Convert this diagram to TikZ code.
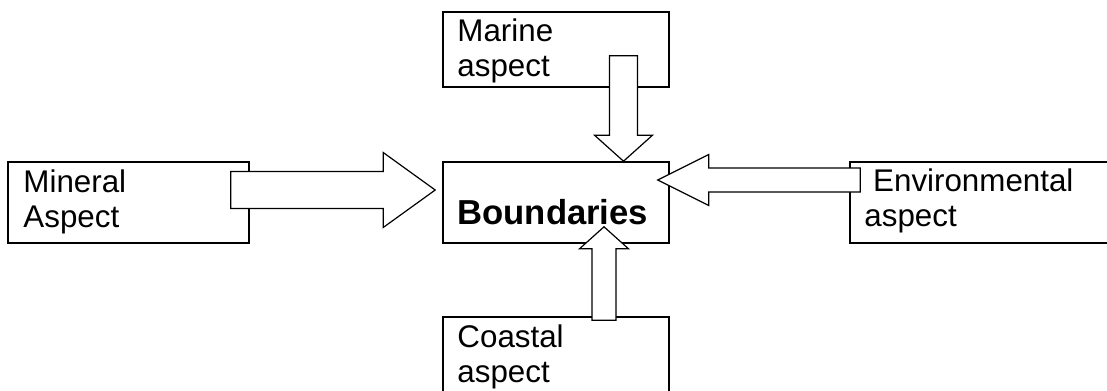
\documentclass[tikz,border=0pt]{standalone}
\usepackage{fontspec}
\setmainfont{Liberation Sans}
\usetikzlibrary{calc}
\def\pxu{0.75pt}
\tikzset{
  box/.style={draw, line width=1.2pt, rectangle, inner sep=0pt},
  blockarr/.style={draw, fill=white, line width=0.9pt, line join=miter},
  lbl/.style={inner sep=0pt, align=left, font=\fontsize{23.5}{26.25}\selectfont},
}
\begin{document}
\begin{tikzpicture}[x=0.75pt,y=-0.75pt]
\clip (0,0) rectangle (1107,390);
% boxes
\node[box, minimum width=226*\pxu, minimum height=75*\pxu] (marine) at (556,49.5) {};
\node[box, minimum width=226*\pxu, minimum height=81*\pxu] (bound) at (556,202.5) {};
\node[box, minimum width=241*\pxu, minimum height=81*\pxu] (mineral) at (128.5,202.5) {};
\node[box, minimum width=262*\pxu, minimum height=81*\pxu] (env) at (981,202.5) {};
\node[box, minimum width=226*\pxu, minimum height=80*\pxu] (coastal) at (556,357) {};
% arrow end points
\coordinate (mt) at ($(marine.south)+(67.5,-32)$);
\coordinate (mh) at (bound.north -| mt);
\coordinate (ct) at ($(coastal.north)+(48,4)$);
\coordinate (ch) at ($(bound.south)+(48,-17)$);
\coordinate (nt) at ($(mineral.east)+(-19,-12.5)$);
\coordinate (nh) at ($(bound.west)+(-7,-12.5)$);
\coordinate (et) at ($(env.west)+(11,-22.5)$);
\coordinate (eh) at ($(bound.east)+(-12,-22.5)$);
% block arrows
\draw[blockarr] ($(mt)+(-14,0)$) -- ($(mt)+(14,0)$) -- ($(mh)+(14,-26)$) -- ($(mh)+(29,-26)$) -- (mh)
  -- ($(mh)+(-29,-26)$) -- ($(mh)+(-14,-26)$) -- cycle;
\draw[blockarr] ($(ct)+(-12,0)$) -- ($(ct)+(12,0)$) -- ($(ch)+(12,22)$) -- ($(ch)+(24.5,22)$) -- (ch)
  -- ($(ch)+(-24.5,22)$) -- ($(ch)+(-12,22)$) -- cycle;
\draw[blockarr] ($(nt)+(0,-18.5)$) -- ($(nh)+(-52,-18.5)$) -- ($(nh)+(-52,-37.5)$) -- (nh)
  -- ($(nh)+(-52,37.5)$) -- ($(nh)+(-52,18.5)$) -- ($(nt)+(0,18.5)$) -- cycle;
\draw[blockarr] ($(et)+(0,-12)$) -- ($(eh)+(51,-12)$) -- ($(eh)+(51,-25.5)$) -- (eh)
  -- ($(eh)+(51,25.5)$) -- ($(eh)+(51,12)$) -- ($(et)+(0,12)$) -- cycle;
% texts
\node[lbl, anchor=north west] (marinetxt) at ($(marine.north west)+(15,7.6)$) {Marine\\aspect};
\node[lbl, anchor=north west] (mineraltxt) at ($(mineral.north west)+(16,8.6)$) {Mineral\\Aspect};
\node[lbl, anchor=base west, font=\fontsize{26}{30}\selectfont\bfseries] (boundtxt) at ($(bound.north west)+(15,63)$) {Boundaries};
\node[lbl, anchor=north west] (envtxt) at ($(env.north west)+(15,7.6)$) {\ Environmental\\aspect};
\node[lbl, anchor=north west] (coastaltxt) at ($(coastal.north west)+(15,8.6)$) {Coastal\\aspect};
\end{tikzpicture}
\end{document}
